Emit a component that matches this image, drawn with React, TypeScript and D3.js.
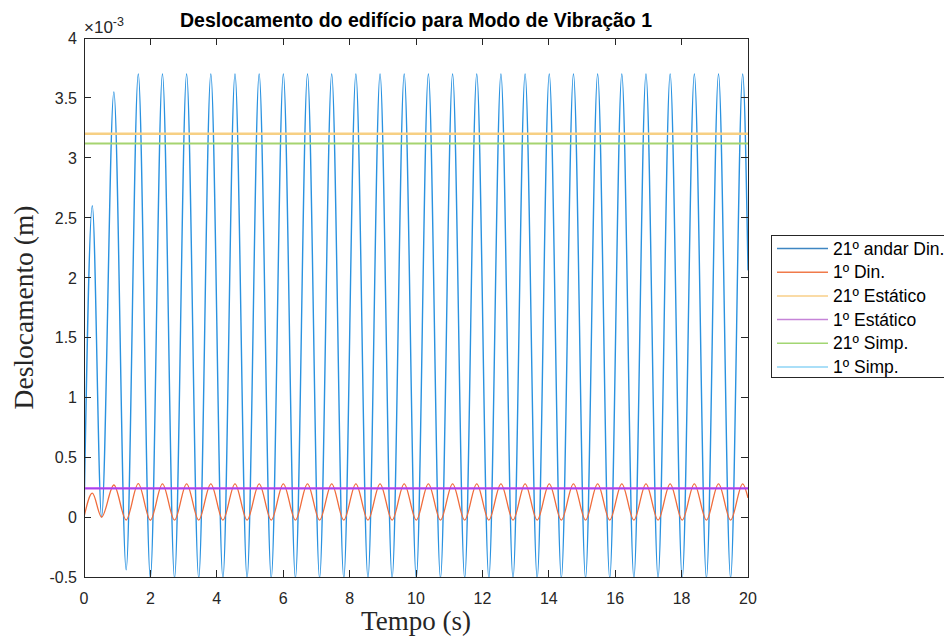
import React from 'react';
import * as d3 from 'd3';

const W = 944;
const H = 637;
const plot = { left: 84, right: 748, top: 38, bottom: 577 };

// Time instants (s) of the successive extrema of the dynamic responses
const timeKnots = [
  0, 0.25, 0.53, 0.9, 1.27, 1.635, 1.999, 2.363, 2.727, 3.091, 3.455, 3.82, 4.184,
  4.548, 4.912, 5.276, 5.64, 6.004, 6.368, 6.732, 7.096, 7.461, 7.825, 8.189, 8.553,
  8.917, 9.281, 9.645, 10.009, 10.373, 10.737, 11.102, 11.466, 11.83, 12.194, 12.558,
  12.922, 13.286, 13.65, 14.014, 14.378, 14.743, 15.107, 15.471, 15.835, 16.199,
  16.563, 16.927, 17.291, 17.655, 18.019, 18.384, 18.748, 19.112, 19.476, 19.84, 20,
];

// Displacement of the 21st floor, dynamic (×10^-3 m)
const topFloorDyn = [
  0, 2.6, 0.0, 3.55, -0.44, 3.7, -0.51, 3.7, -0.51, 3.7, -0.51, 3.7, -0.51,
  3.7, -0.51, 3.7, -0.51, 3.7, -0.51, 3.7, -0.51, 3.7, -0.51, 3.7, -0.51,
  3.7, -0.51, 3.7, -0.51, 3.7, -0.51, 3.7, -0.51, 3.7, -0.51, 3.7,
  -0.51, 3.7, -0.51, 3.7, -0.51, 3.7, -0.51, 3.7, -0.51, 3.7,
  -0.51, 3.7, -0.51, 3.7, -0.51, 3.7, -0.51, 3.7, -0.51, 3.7, 2.06,
];

// Displacement of the 1st floor, dynamic (×10^-3 m)
const firstFloorDyn = [
  0, 0.2, 0.0, 0.268, -0.024, 0.28, -0.026, 0.278, -0.025, 0.278, -0.025, 0.278, -0.025,
  0.278, -0.025, 0.278, -0.025, 0.278, -0.025, 0.278, -0.025, 0.278, -0.025, 0.278, -0.025,
  0.278, -0.025, 0.278, -0.025, 0.278, -0.025, 0.278, -0.025, 0.278, -0.025, 0.278,
  -0.025, 0.278, -0.025, 0.278, -0.025, 0.278, -0.025, 0.278, -0.025, 0.278,
  -0.025, 0.278, -0.025, 0.278, -0.025, 0.278, -0.025, 0.278, -0.025, 0.278, 0.16,
];

// Constant (static / simplified) results
const timeSpan = [0, 20];
const topFloorStatic = [3.2, 3.2];
const firstFloorStatic = [0.24, 0.24];
const topFloorSimp = [3.12, 3.12];
const firstFloorSimp = [0.24, 0.24];

const xTicks = [0, 2, 4, 6, 8, 10, 12, 14, 16, 18, 20];
const yTicks = [-0.5, 0, 0.5, 1, 1.5, 2, 2.5, 3, 3.5, 4];
const yTickLabels = ['-0.5', '0', '0.5', '1', '1.5', '2', '2.5', '3', '3.5', '4'];

const legendLabels = ['21º andar Din.', '1º Din.', '21º Estático', '1º Estático', '21º Simp.', '1º Simp.'];

const AXIS = '#262626';
const SANS = "'Liberation Sans', Arial, Helvetica, sans-serif";
const SERIF = "'Liberation Serif', 'Times New Roman', serif";

export default function App() {
  const x = d3.scaleLinear().domain([0, 20]).range([plot.left, plot.right]);
  const y = d3.scaleLinear().domain([-0.5, 4]).range([plot.bottom, plot.top]);

  const smooth = d3
    .line<[number, number]>()
    .x((d) => x(d[0]))
    .y((d) => y(d[1]))
    .curve(d3.curveMonotoneX);
  const straight = d3
    .line<[number, number]>()
    .x((d) => x(d[0]))
    .y((d) => y(d[1]));

  const zipPts = (ts: number[], vs: number[]) => ts.map((t, i) => [t, vs[i]] as [number, number]);

  const series = [
    { label: legendLabels[0], d: smooth(zipPts(timeKnots, topFloorDyn)), color: '#2a92e0', legendColor: '#3f86c2', w: 1.4, op: 1 },
    { label: legendLabels[1], d: smooth(zipPts(timeKnots, firstFloorDyn)), color: '#f06c3c', legendColor: '#f07a4a', w: 1.3, op: 1 },
    { label: legendLabels[2], d: straight(zipPts(timeSpan, topFloorStatic)), color: '#f7d084', legendColor: '#f8cf88', w: 2.4, op: 1 },
    { label: legendLabels[3], d: straight(zipPts(timeSpan, firstFloorStatic)), color: '#c83ef0', legendColor: '#c584d8', w: 2.4, op: 1 },
    { label: legendLabels[4], d: straight(zipPts(timeSpan, topFloorSimp)), color: '#a6d470', legendColor: '#a2d672', w: 2, op: 1 },
    { label: legendLabels[5], d: straight(zipPts(timeSpan, firstFloorSimp)), color: '#4a5ae0', legendColor: '#8ed4f6', w: 0.9, op: 0.4 },
  ];

  const tickLen = 6.6;
  const legend = { x: 771.5, y: 235.5, w: 180, h: 142, row0: 248.5, step: 23.7 };

  return (
    <svg
      width={W}
      height={H}
      viewBox={`0 0 ${W} ${H}`}
      style={{ position: 'absolute', left: 0, top: 0, background: '#fff' }}
    >
      <rect x={0} y={0} width={W} height={H} fill="#fff" />
      <defs>
        <clipPath id="plot-area">
          <rect x={plot.left} y={plot.top} width={plot.right - plot.left} height={plot.bottom - plot.top} />
        </clipPath>
      </defs>

      <g clipPath="url(#plot-area)">
        {series.map((s) => (
          <path key={s.label} d={s.d ?? ''} fill="none" stroke={s.color} strokeWidth={s.w} strokeOpacity={s.op} />
        ))}
      </g>

      {/* axes box */}
      <rect
        x={plot.left}
        y={plot.top}
        width={plot.right - plot.left}
        height={plot.bottom - plot.top}
        fill="none"
        stroke={AXIS}
        strokeWidth={1}
        shapeRendering="crispEdges"
      />

      {/* x ticks and labels */}
      {xTicks.map((t) => (
        <g key={`x${t}`}>
          <line x1={x(t)} x2={x(t)} y1={plot.bottom} y2={plot.bottom - tickLen} stroke={AXIS} shapeRendering="crispEdges" />
          <line x1={x(t)} x2={x(t)} y1={plot.top} y2={plot.top + tickLen} stroke={AXIS} shapeRendering="crispEdges" />
          <text x={x(t)} y={plot.bottom + 27} textAnchor="middle" fontFamily={SANS} fontSize={16} fill={AXIS}>
            {t}
          </text>
        </g>
      ))}

      {/* y ticks and labels */}
      {yTicks.map((v, i) => (
        <g key={`y${v}`}>
          <line x1={plot.left} x2={plot.left + tickLen} y1={y(v)} y2={y(v)} stroke={AXIS} shapeRendering="crispEdges" />
          <line x1={plot.right} x2={plot.right - tickLen} y1={y(v)} y2={y(v)} stroke={AXIS} shapeRendering="crispEdges" />
          <text x={plot.left - 7} y={y(v) + 6} textAnchor="end" fontFamily={SANS} fontSize={16} fill={AXIS}>
            {yTickLabels[i]}
          </text>
        </g>
      ))}

      {/* exponent */}
      <text x={plot.left} y={plot.top - 5} fontFamily={SANS} fontSize={17} fill={AXIS}>
        ×10
        <tspan fontSize={12.5} dy={-7}>-3</tspan>
      </text>

      {/* title */}
      <text
        x={(plot.left + plot.right) / 2}
        y={plot.top - 11}
        textAnchor="middle"
        fontFamily={SANS}
        fontWeight="bold"
        fontSize={19.5}
        fill="#000"
      >
        Deslocamento do edifício para Modo de Vibração 1
      </text>

      {/* axis labels */}
      <text
        x={(plot.left + plot.right) / 2}
        y={630}
        textAnchor="middle"
        fontFamily={SERIF}
        fontSize={27}
        fill={AXIS}
      >
        Tempo (s)
      </text>
      <text
        transform={`translate(33, ${(plot.top + plot.bottom) / 2}) rotate(-90)`}
        textAnchor="middle"
        fontFamily={SERIF}
        fontSize={27.5}
        fill={AXIS}
      >
        Deslocamento (m)
      </text>

      {/* legend */}
      <rect x={legend.x} y={legend.y} width={legend.w} height={legend.h} fill="#fff" stroke={AXIS} strokeWidth={1} shapeRendering="crispEdges" />
      {series.map((s, i) => {
        const ry = legend.row0 + i * legend.step;
        return (
          <g key={`lg${i}`}>
            <line x1={777} x2={828} y1={ry} y2={ry} stroke={s.legendColor} strokeWidth={1.5} />
            <text x={833} y={ry + 6} fontFamily={SANS} fontSize={17.5} fill="#000">
              {s.label}
            </text>
          </g>
        );
      })}
    </svg>
  );
}
